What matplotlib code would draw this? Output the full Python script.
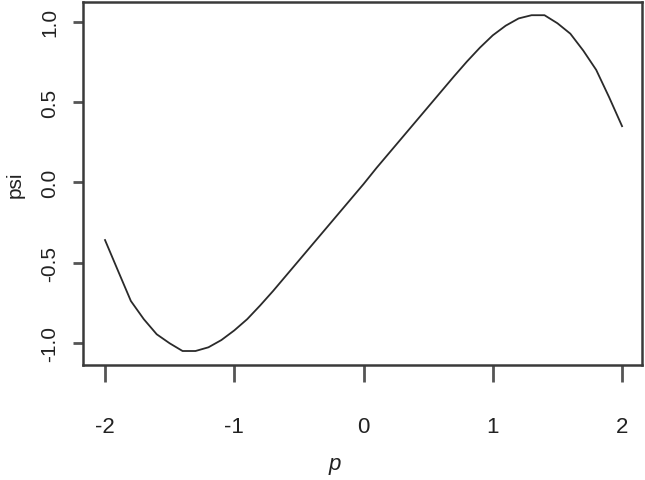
import matplotlib
matplotlib.use("Agg")
import matplotlib.pyplot as plt
from matplotlib import font_manager

p_values = [-2.0, -1.9, -1.8, -1.7, -1.6, -1.5, -1.4, -1.3, -1.2, -1.1, -1.0,
            -0.9, -0.8, -0.7, -0.6, -0.5, -0.4, -0.3, -0.2, -0.1, 0.0,
            0.1, 0.2, 0.3, 0.4, 0.5, 0.6, 0.7, 0.8, 0.9, 1.0,
            1.1, 1.2, 1.3, 1.4, 1.5, 1.6, 1.7, 1.8, 1.9, 2.0]
psi_values = [-0.358, -0.548, -0.737, -0.85, -0.944, -1.0, -1.048, -1.048, -1.025, -0.98, -0.92,
              -0.85, -0.765, -0.675, -0.58, -0.485, -0.39, -0.295, -0.2, -0.105, -0.01,
              0.09, 0.185, 0.28, 0.375, 0.47, 0.565, 0.66, 0.752, 0.838, 0.915,
              0.975, 1.02, 1.04, 1.04, 0.99, 0.925, 0.82, 0.70, 0.53, 0.35]
x_ticks = [-2, -1, 0, 1, 2]
x_ticklabels = ["-2", "-1", "0", "1", "2"]
y_ticks = [-1.0, -0.5, 0.0, 0.5, 1.0]
y_ticklabels = ["-1.0", "-0.5", "0.0", "0.5", "1.0"]

names = {f.name for f in font_manager.fontManager.ttflist}
xfont = "Liberation Sans Narrow" if "Liberation Sans Narrow" in names else "Liberation Sans"

fig = plt.figure(figsize=(6.45, 4.81), dpi=100)
ax = fig.add_axes([83.3 / 645, 1 - 366 / 481, (641.7 - 83.3) / 645, (366 - 2.7) / 481])
ax.plot(p_values, psi_values, color="#2a2a2a", linewidth=1.3)
ax.set_xlim(-2.168, 2.152)
ax.set_ylim(-1.135, 1.124)

for s in ax.spines.values():
    s.set_color("#3a3a3a")
    s.set_linewidth(1.8)

ax.set_xticks(x_ticks)
ax.set_xticklabels(x_ticklabels, family=xfont, fontsize=16, color="#222222")
ax.set_yticks(y_ticks)
ax.set_yticklabels(y_ticklabels, family="Liberation Sans", fontsize=15,
                   rotation=90, va="center", color="#222222")
ax.tick_params(axis="x", direction="out", length=12.5, width=2, color="#555555", pad=24)
ax.tick_params(axis="y", direction="out", length=7.5, width=2, color="#555555", pad=10)

fig.text(335 / 645, 1 - 465 / 481, "p", family="Liberation Sans", style="italic",
         fontsize=16, ha="center", va="center", color="#222222")
fig.text(15 / 645, 1 - 185 / 481, "psi", family="Liberation Sans", fontsize=15,
         rotation=90, ha="center", va="center", color="#222222")

fig.savefig("out.png", dpi=100)
